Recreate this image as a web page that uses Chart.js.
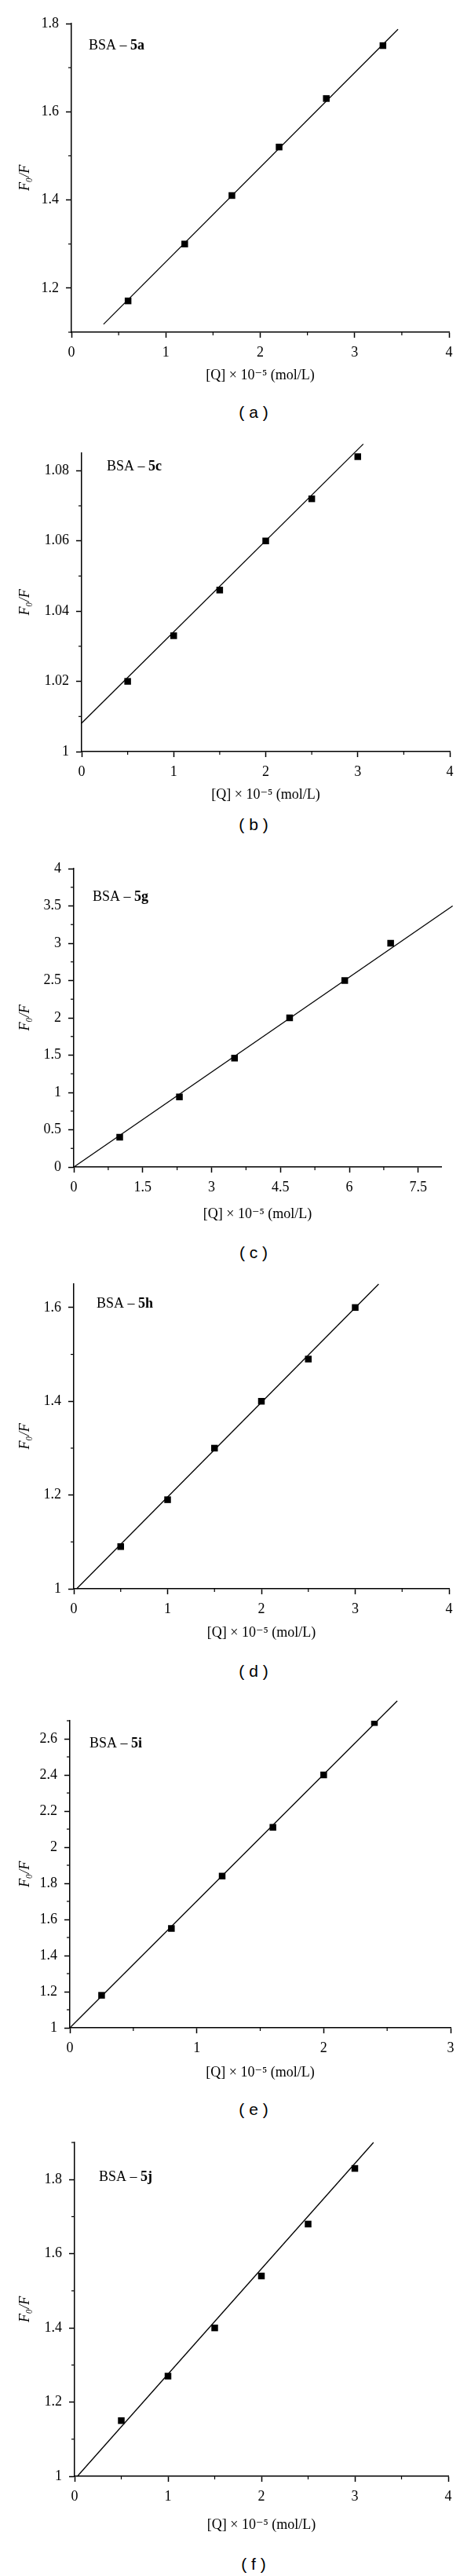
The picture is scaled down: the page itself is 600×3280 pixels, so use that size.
<!DOCTYPE html>
<html>
<head>
<meta charset="utf-8">
<script src="https://cdn.jsdelivr.net/npm/chart.js@4.4.1/dist/chart.umd.min.js"></script>
<style>
  body { margin: 0; background: #fff; }
  #page { position: relative; width: 600px; height: 3280px; }
  canvas { position: absolute; left: 0; }
  .cap { position: absolute; left: 223px; width: 200px; text-align: center;
         font-family: 'Liberation Sans', Arial, sans-serif; font-size: 21px; line-height: 24px; color: #000; }
</style>
</head>
<body>
<div id="page"></div>
<script>
// (a) BSA - 5a
var aQ = [0.6, 1.2, 1.7, 2.2, 2.7, 3.3];
var aF = [1.171, 1.30, 1.41, 1.52, 1.63, 1.75];
var aFitQ = [0.34, 3.46];
var aFitF = [1.118, 1.787];
var aXTicks = [0, 1, 2, 3, 4];
var aYTicks = [1.2, 1.4, 1.6, 1.8];

// (b) BSA - 5c
var bQ = [0.5, 1.0, 1.5, 2.0, 2.5, 3.0];
var bF = [1.020, 1.033, 1.046, 1.060, 1.072, 1.084];
var bFitQ = [0, 3.06];
var bFitF = [1.0081, 1.0876];
var bXTicks = [0, 1, 2, 3, 4];
var bYTicks = [1, 1.02, 1.04, 1.06, 1.08];

// (c) BSA - 5g
var cQ = [1.0, 2.3, 3.5, 4.7, 5.9, 6.9];
var cF = [0.40, 0.94, 1.46, 2.0, 2.5, 3.0];
var cFitQ = [0, 8.25];
var cFitF = [0, 3.5];
var cXTicks = [0, 1.5, 3, 4.5, 6, 7.5];
var cYTicks = [0, 0.5, 1, 1.5, 2, 2.5, 3, 3.5, 4];

// (d) BSA - 5h
var dQ = [0.5, 1.0, 1.5, 2.0, 2.5, 3.0];
var dF = [1.09, 1.19, 1.30, 1.40, 1.49, 1.60];
var dFitQ = [0.03, 3.25];
var dFitF = [1.0, 1.65];
var dXTicks = [0, 1, 2, 3, 4];
var dYTicks = [1, 1.2, 1.4, 1.6];

// (e) BSA - 5i
var eQ = [0.25, 0.8, 1.2, 1.6, 2.0, 2.4];
var eF = [1.18, 1.55, 1.84, 2.11, 2.40, 2.69];
var eFitQ = [0, 2.58];
var eFitF = [1.0, 2.81];
var eXTicks = [0, 1, 2, 3];
var eYTicks = [1, 1.2, 1.4, 1.6, 1.8, 2, 2.2, 2.4, 2.6];

// (f) BSA - 5j
var fQ = [0.5, 1.0, 1.5, 2.0, 2.5, 3.0];
var fF = [1.15, 1.27, 1.40, 1.54, 1.68, 1.83];
var fFitQ = [0.03, 3.2];
var fFitF = [1.0, 1.9];
var fXTicks = [0, 1, 2, 3, 4];
var fYTicks = [1, 1.2, 1.4, 1.6, 1.8];

var serif = "'Liberation Serif', 'DejaVu Serif', serif";
var PAD_TOP = 40, XAXIS_H = 80;

// plot-area box on the page, caption and label placement for each panel
var panels = [
  {q: aQ, f: aF, fq: aFitQ, ff: aFitF, xt: aXTicks, yt: aYTicks, xmax: 4, ymin: 1.1, ymax: 1.8, xminor: 0.5, yminor: 0.1,
   name: '5a', cap: 'a', L: 91, R: 572, T: 30, B: 423, capY: 525, titleOff: 55, lab: [22, 28]},
  {q: bQ, f: bF, fq: bFitQ, ff: bFitF, xt: bXTicks, yt: bYTicks, xmax: 4, ymin: 1, ymax: 1.085, xminor: 0.5, yminor: 0.01,
   name: '5c', cap: 'b', L: 104, R: 573, T: 577, B: 957, capY: 1050, titleOff: 55, lab: [32, 17]},
  {q: cQ, f: cF, fq: cFitQ, ff: cFitF, xt: cXTicks, yt: cYTicks, xmax: 8, ymin: 0, ymax: 4, xminor: 0.75, yminor: 0.25,
   name: '5g', cap: 'c', L: 94, R: 562, T: 1106, B: 1486, capY: 1595, titleOff: 60, lab: [24, 36]},
  {q: dQ, f: dF, fq: dFitQ, ff: dFitF, xt: dXTicks, yt: dYTicks, xmax: 4, ymin: 1, ymax: 1.65, xminor: 0.5, yminor: 0.1,
   name: '5h', cap: 'd', L: 94, R: 572, T: 1635, B: 2023, capY: 2128, titleOff: 56, lab: [29, 25]},
  {q: eQ, f: eF, fq: eFitQ, ff: eFitF, xt: eXTicks, yt: eYTicks, xmax: 3, ymin: 1, ymax: 2.7, xminor: 0.5, yminor: 0.1,
   name: '5i', cap: 'e', L: 89, R: 574, T: 2191, B: 2582, capY: 2686, titleOff: 57, lab: [25, 29]},
  {q: fQ, f: fF, fq: fFitQ, ff: fFitF, xt: fXTicks, yt: fYTicks, xmax: 4, ymin: 1, ymax: 1.9, xminor: 0.5, yminor: 0.1,
   name: '5j', cap: 'f', L: 95, R: 571, T: 2728, B: 3153, capY: 3265, titleOff: 62, lab: [31, 44]}
];

// minor ticks and the "BSA – 5x" label
var extras = {
  id: 'extras',
  afterDraw: function (chart, args, o) {
    var ctx = chart.ctx;
    ctx.save();
    ctx.strokeStyle = '#000';
    ctx.lineWidth = 1.2;
    ['x', 'y'].forEach(function (id) {
      var s = chart.scales[id], step = o[id];
      var n0 = Math.ceil(s.min / step - 1e-6), n1 = Math.floor(s.max / step + 1e-6);
      for (var n = n0; n <= n1; n++) {
        var v = n * step;
        if (s.ticks.some(function (t) { return Math.abs(t.value - v) < step / 10; })) continue;
        var p = s.getPixelForValue(v);
        ctx.beginPath();
        if (id === 'x') { ctx.moveTo(p, s.top); ctx.lineTo(p, s.top + 4); }
        else { ctx.moveTo(s.right, p); ctx.lineTo(s.right - 4, p); }
        ctx.stroke();
      }
    });
    var a = chart.chartArea;
    var x = a.left + o.lab[0], y = a.top + o.lab[1];
    ctx.fillStyle = '#000';
    ctx.textBaseline = 'middle';
    ctx.font = '18px ' + serif;
    ctx.fillText('BSA – ', x, y);
    var w = ctx.measureText('BSA – ').width;
    ctx.font = 'bold 18px ' + serif;
    ctx.fillText(o.name, x + w, y);
    ctx.restore();
  }
};

var page = document.getElementById('page');

panels.forEach(function (p) {
  var h = PAD_TOP + (p.B - p.T) + XAXIS_H;
  var cv = document.createElement('canvas');
  cv.width = 600;
  cv.height = h;
  cv.style.top = (p.T - PAD_TOP) + 'px';
  cv.style.width = '600px';
  cv.style.height = h + 'px';
  page.appendChild(cv);

  var cap = document.createElement('div');
  cap.className = 'cap';
  cap.style.top = (p.capY - 12) + 'px';
  cap.textContent = '( ' + p.cap + ' )';
  page.appendChild(cap);

  var pts = p.q.map(function (v, i) { return {x: v, y: p.f[i]}; });
  var fit = p.fq.map(function (v, i) { return {x: v, y: p.ff[i]}; });

  new Chart(cv, {
    type: 'scatter',
    data: {
      datasets: [{
        data: pts,
        pointStyle: 'rect',
        pointRadius: 6,
        backgroundColor: '#000',
        borderColor: '#000',
        borderWidth: 0
      }, {
        data: fit,
        showLine: true,
        pointRadius: 0,
        borderColor: '#000',
        borderWidth: 1.3,
        clip: false
      }]
    },
    options: {
      responsive: false,
      animation: false,
      layout: {padding: {top: PAD_TOP, left: 0, right: 600 - p.R, bottom: 0}},
      plugins: {
        legend: {display: false},
        tooltip: {enabled: false},
        extras: {x: p.xminor, y: p.yminor, lab: p.lab, name: p.name}
      },
      scales: {
        x: {
          type: 'linear', position: 'bottom', min: 0, max: p.xmax,
          afterBuildTicks: function (s) { s.ticks = p.xt.map(function (v) { return {value: v}; }); },
          afterFit: function (s) { s.height = XAXIS_H; },
          grid: {drawOnChartArea: false, drawTicks: true, tickLength: 7, tickColor: '#000', tickWidth: 1.5},
          border: {display: true, color: '#000', width: 1.5},
          ticks: {color: '#000', font: {family: serif, size: 18}, padding: 8, maxRotation: 0, autoSkip: false,
                  callback: function (v) { return String(v); }},
          title: {display: true, text: '[Q] × 10⁻⁵ (mol/L)', color: '#000', font: {family: serif, size: 18},
                  padding: {top: 0, bottom: XAXIS_H - p.titleOff - 10.8}}
        },
        y: {
          type: 'linear', position: 'left', min: p.ymin, max: p.ymax,
          afterBuildTicks: function (s) { s.ticks = p.yt.map(function (v) { return {value: v}; }); },
          afterFit: function (s) { s.width = p.L; },
          grid: {drawOnChartArea: false, drawTicks: true, tickLength: 7, tickColor: '#000', tickWidth: 1.5},
          border: {display: true, color: '#000', width: 1.5},
          ticks: {color: '#000', font: {family: serif, size: 18}, padding: 9, autoSkip: false,
                  callback: function (v) { return String(v); }},
          title: {display: true, text: 'F₀/F', color: '#000', font: {family: serif, size: 18, style: 'italic'},
                  padding: {top: 21, bottom: 0}}
        }
      }
    },
    plugins: [extras]
  });
});
</script>
</body>
</html>
